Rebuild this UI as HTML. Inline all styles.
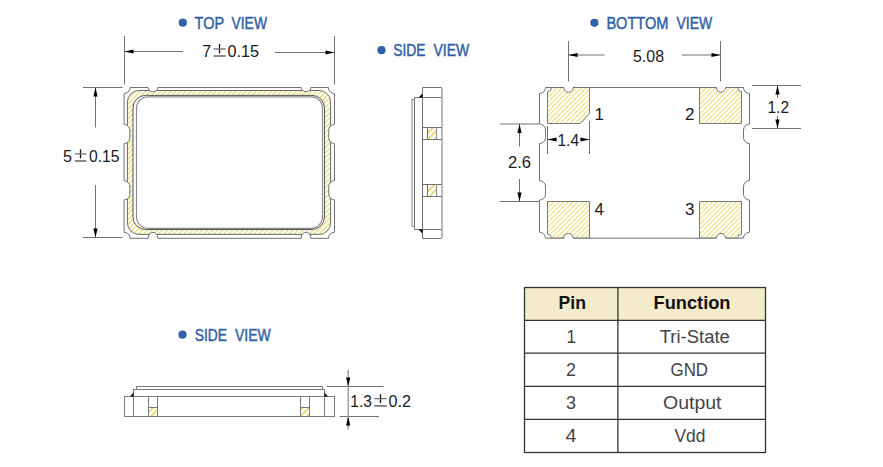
<!DOCTYPE html>
<html><head><meta charset="utf-8">
<style>
html,body{margin:0;padding:0;background:#fff;}
body{width:883px;height:467px;overflow:hidden;position:relative;}
svg{position:absolute;left:0;top:0;}
text{font-family:"Liberation Sans",sans-serif;}
</style></head><body>
<svg width="883" height="467" viewBox="0 0 883 467">
<defs>
<pattern id="h1" patternUnits="userSpaceOnUse" width="3.55" height="5" patternTransform="rotate(45)">
<rect x="0" y="0" width="1.3" height="5" fill="#e5dd72"/>
</pattern>
<pattern id="h2" patternUnits="userSpaceOnUse" width="3.4" height="5" patternTransform="rotate(45)">
<rect x="0" y="0" width="1.1" height="5" fill="#ecdc78"/>
</pattern>
<pattern id="h3" patternUnits="userSpaceOnUse" width="4.6" height="5" patternTransform="rotate(45)">
<rect x="0" y="0" width="1.7" height="5" fill="#e8d458"/>
</pattern>
<clipPath id="bodyclip"><path d="M130.1,87.5 H148.1 A4.9,4.3 0 0 0 157.9,87.5 H301.1 A4.9,4.3 0 0 0 310.9,87.5 H328.5 A6,6 0 0 0 334.5,93.5 V124.4 A5.8,6 0 0 0 328.7,130.4 V137.6 A5.8,6 0 0 0 334.5,143.6 V180.7 A5.8,6 0 0 0 328.7,186.7 V193.9 A5.8,6 0 0 0 334.5,199.9 V232.3 A6,6 0 0 0 328.5,238.3 H310.9 A4.9,6 0 0 0 301.1,238.3 H157.9 A4.9,6 0 0 0 148.1,238.3 H130.1 A6,6 0 0 0 124.1,232.3 V199.9 A5.8,6 0 0 0 129.9,193.9 V186.7 A5.8,6 0 0 0 124.1,180.7 V143.6 A5.8,6 0 0 0 129.9,137.6 V130.4 A5.8,6 0 0 0 124.1,124.4 V93.5 A6,6 0 0 0 130.1,87.5 Z"/></clipPath>
<clipPath id="botclip"><path d="M545.5,87.5 H563.9 A4.6,4.8 0 0 0 573.1,87.5 H716.4 A4.6,4.8 0 0 0 725.6,87.5 H743.5 A6,6 0 0 0 749.5,93.5 V124.05 A6,6 0 0 0 743.5,130.05 V137.55 A6,6 0 0 0 749.5,143.55 V180.55 A6,6 0 0 0 743.5,186.55 V194.05 A6,6 0 0 0 749.5,200.05 V232.2 A6,6 0 0 0 743.5,238.2 H725.6 A4.6,4.8 0 0 0 716.4,238.2 H573.1 A4.6,4.8 0 0 0 563.9,238.2 H545.5 A6,6 0 0 0 539.5,232.2 V200.05 A6,6 0 0 0 545.5,194.05 V186.55 A6,6 0 0 0 539.5,180.55 V143.55 A6,6 0 0 0 545.5,137.55 V130.05 A6,6 0 0 0 539.5,124.05 V93.5 A6,6 0 0 0 545.5,87.5 Z"/></clipPath>
</defs>
<g fill="#3061ab" stroke="#3061ab" stroke-width="0.45">
<circle cx="182.8" cy="22.7" r="4.1" stroke="none"/>
<text x="194.6" y="28.7" font-size="15.9" textLength="29.6" lengthAdjust="spacingAndGlyphs" >TOP</text>
<text x="231.5" y="28.7" font-size="15.9" textLength="35.5" lengthAdjust="spacingAndGlyphs" >VIEW</text>
<circle cx="381.5" cy="50.2" r="4.1" stroke="none"/>
<text x="393.2" y="55.8" font-size="15.9" textLength="32.2" lengthAdjust="spacingAndGlyphs" >SIDE</text>
<text x="433.5" y="55.8" font-size="15.9" textLength="35.8" lengthAdjust="spacingAndGlyphs" >VIEW</text>
<circle cx="594.4" cy="22.8" r="4.1" stroke="none"/>
<text x="606.4" y="28.6" font-size="15.9" textLength="62" lengthAdjust="spacingAndGlyphs" >BOTTOM</text>
<text x="676.5" y="28.6" font-size="15.9" textLength="35.7" lengthAdjust="spacingAndGlyphs" >VIEW</text>
<circle cx="182.5" cy="334.7" r="4.1" stroke="none"/>
<text x="194.7" y="340.6" font-size="15.9" textLength="32.2" lengthAdjust="spacingAndGlyphs" >SIDE</text>
<text x="235" y="340.6" font-size="15.9" textLength="35.8" lengthAdjust="spacingAndGlyphs" >VIEW</text>
</g>
<g stroke="#707070" stroke-width="1" fill="none">
<line x1="124.5" y1="36" x2="124.5" y2="84.5" />
<line x1="334.5" y1="36" x2="334.5" y2="84.5" />
<line x1="124.5" y1="51.5" x2="183" y2="51.5" />
<line x1="275" y1="52.5" x2="334.5" y2="52.5" />
<line x1="83" y1="87.5" x2="122.5" y2="87.5" />
<line x1="83" y1="237.5" x2="122.5" y2="237.5" />
<line x1="95.5" y1="87.5" x2="95.5" y2="127.5" />
<line x1="95.5" y1="185" x2="95.5" y2="237.5" />
</g>
<path d="M124.5,51.5 L133.5,49.4 L133.5,53.6 z" fill="#000"/>
<path d="M334.5,52.5 L325.5,50.4 L325.5,54.6 z" fill="#000"/>
<path d="M95.5,87.5 L93.4,96.5 L97.6,96.5 z" fill="#000"/>
<path d="M95.5,237.5 L93.4,228.5 L97.6,228.5 z" fill="#000"/>
<g fill="#1a1a1a">
<text x="202.3" y="57" font-size="16.5" textLength="9" lengthAdjust="spacingAndGlyphs" >7</text>
<text x="227.6" y="57" font-size="16.5" textLength="31.5" lengthAdjust="spacingAndGlyphs" >0.15</text>
<text x="63" y="161.6" font-size="16.5" textLength="9" lengthAdjust="spacingAndGlyphs" >5</text>
<text x="89" y="161.6" font-size="16.5" textLength="30.5" lengthAdjust="spacingAndGlyphs" >0.15</text>
</g>
<g><line x1="219.5" y1="44" x2="219.5" y2="53.5" stroke="#111" stroke-width="1.3"/><line x1="213.6" y1="49" x2="225.7" y2="49" stroke="#6f6f6f" stroke-width="1.3"/><line x1="213.6" y1="56" x2="225.7" y2="56" stroke="#6f6f6f" stroke-width="1.6"/></g>
<g><line x1="80.5" y1="149.4" x2="80.5" y2="158.4" stroke="#111" stroke-width="1.3"/><line x1="74.9" y1="153.9" x2="86.4" y2="153.9" stroke="#6f6f6f" stroke-width="1.3"/><line x1="74.9" y1="161" x2="86.4" y2="161" stroke="#6f6f6f" stroke-width="1.6"/></g>
<g clip-path="url(#bodyclip)">
<path fill="url(#h1)" fill-rule="evenodd" d="M138.9,90.5 H319.1 A11.5,11.5 0 0 1 330.6,102 V222.9 A11.5,11.5 0 0 1 319.1,234.4 H138.9 A11.5,11.5 0 0 1 127.4,222.9 V102 A11.5,11.5 0 0 1 138.9,90.5 Z M145.5,95.4 H312 A12.5,12.5 0 0 1 324.5,107.9 V217 A12.5,12.5 0 0 1 312,229.5 H145.5 A12.5,12.5 0 0 1 133,217 V107.9 A12.5,12.5 0 0 1 145.5,95.4 Z"/>
<path fill="none" stroke="#6a6a6a" stroke-width="1" d="M138.9,90.5 H319.1 A11.5,11.5 0 0 1 330.6,102 V222.9 A11.5,11.5 0 0 1 319.1,234.4 H138.9 A11.5,11.5 0 0 1 127.4,222.9 V102 A11.5,11.5 0 0 1 138.9,90.5 Z"/>
<path fill="none" stroke="#555" stroke-width="1" d="M145.5,95.4 H312 A12.5,12.5 0 0 1 324.5,107.9 V217 A12.5,12.5 0 0 1 312,229.5 H145.5 A12.5,12.5 0 0 1 133,217 V107.9 A12.5,12.5 0 0 1 145.5,95.4 Z"/>
<path fill="none" stroke="#8c8c8c" stroke-width="1.2" d="M148,96.8 H311 A11.5,11.5 0 0 1 322.5,108.3 V216.8 A11.5,11.5 0 0 1 311,228.3 H148 A11.5,11.5 0 0 1 136.5,216.8 V108.3 A11.5,11.5 0 0 1 148,96.8 Z"/>
</g>
<path fill="none" stroke="#707070" stroke-width="1" d="M130.1,87.5 H148.1 A4.9,4.3 0 0 0 157.9,87.5 H301.1 A4.9,4.3 0 0 0 310.9,87.5 H328.5 A6,6 0 0 0 334.5,93.5 V124.4 A5.8,6 0 0 0 328.7,130.4 V137.6 A5.8,6 0 0 0 334.5,143.6 V180.7 A5.8,6 0 0 0 328.7,186.7 V193.9 A5.8,6 0 0 0 334.5,199.9 V232.3 A6,6 0 0 0 328.5,238.3 H310.9 A4.9,6 0 0 0 301.1,238.3 H157.9 A4.9,6 0 0 0 148.1,238.3 H130.1 A6,6 0 0 0 124.1,232.3 V199.9 A5.8,6 0 0 0 129.9,193.9 V186.7 A5.8,6 0 0 0 124.1,180.7 V143.6 A5.8,6 0 0 0 129.9,137.6 V130.4 A5.8,6 0 0 0 124.1,124.4 V93.5 A6,6 0 0 0 130.1,87.5 Z"/>
<g fill="none" stroke="#6e6e6e" stroke-width="1">
<line x1="422.5" y1="87.5" x2="441.5" y2="87.5" />
<line x1="422.5" y1="238.5" x2="441.5" y2="238.5" />
<line x1="422.5" y1="87.5" x2="422.5" y2="238.5" />
<line x1="442" y1="87.5" x2="442" y2="238.5" stroke="#9a9a9a" stroke-width="1.4"/>
<line x1="414.5" y1="97.5" x2="441.5" y2="97.5" />
<line x1="414.5" y1="229.5" x2="441.5" y2="229.5" />
<line x1="414.5" y1="97.5" x2="414.5" y2="229.5" />
<path stroke="#a0a0a0" stroke-width="1.3" d="M414.5,99.5 H412 V226.3 H414.5"/>
<line x1="422.5" y1="127.5" x2="441.5" y2="127.5" />
<line x1="422.5" y1="139.5" x2="441.5" y2="139.5" />
<line x1="427.5" y1="127.5" x2="427.5" y2="139.5" />
<line x1="436.5" y1="127.5" x2="436.5" y2="139.5" stroke="#999" stroke-width="1.3"/>
<line x1="422.5" y1="184.5" x2="441.5" y2="184.5" />
<line x1="422.5" y1="196.5" x2="441.5" y2="196.5" />
<line x1="427.5" y1="184.5" x2="427.5" y2="196.5" />
<line x1="436.5" y1="184.5" x2="436.5" y2="196.5" stroke="#999" stroke-width="1.3"/>
</g>
<rect x="428" y="128" width="8" height="11" fill="url(#h3)"/>
<rect x="428" y="185" width="8" height="11" fill="url(#h3)"/>
<path d="M418.5,97.5 L422.5,97.5 L422.5,93.5 z" fill="#000"/>
<path d="M418.5,229.5 L422.5,229.5 L422.5,233.5 z" fill="#000"/>
<g clip-path="url(#botclip)">
<path fill="url(#h2)" stroke="#7a7a7a" stroke-width="1" d="M551.5,87.5 H589.5 V113.5 L580.5,123.5 H547.5 V91.5 A4,4 0 0 0 551.5,87.5 Z"/>
<path fill="url(#h2)" stroke="#7a7a7a" stroke-width="1" d="M699.5,87.5 H737.5 A4,4 0 0 0 741.5,91.5 V123.5 H699.5 Z"/>
<path fill="url(#h2)" stroke="#7a7a7a" stroke-width="1" d="M547.5,201.5 H589.5 V238.2 H551.5 A4,4 0 0 0 547.5,234.2 Z"/>
<path fill="url(#h2)" stroke="#7a7a7a" stroke-width="1" d="M699.5,201.5 H741.5 V234.2 A4,4 0 0 0 737.5,238.2 H699.5 Z"/>
</g>
<path fill="none" stroke="#707070" stroke-width="1" d="M545.5,87.5 H563.9 A4.6,4.8 0 0 0 573.1,87.5 H716.4 A4.6,4.8 0 0 0 725.6,87.5 H743.5 A6,6 0 0 0 749.5,93.5 V124.05 A6,6 0 0 0 743.5,130.05 V137.55 A6,6 0 0 0 749.5,143.55 V180.55 A6,6 0 0 0 743.5,186.55 V194.05 A6,6 0 0 0 749.5,200.05 V232.2 A6,6 0 0 0 743.5,238.2 H725.6 A4.6,4.8 0 0 0 716.4,238.2 H573.1 A4.6,4.8 0 0 0 563.9,238.2 H545.5 A6,6 0 0 0 539.5,232.2 V200.05 A6,6 0 0 0 545.5,194.05 V186.55 A6,6 0 0 0 539.5,180.55 V143.55 A6,6 0 0 0 545.5,137.55 V130.05 A6,6 0 0 0 539.5,124.05 V93.5 A6,6 0 0 0 545.5,87.5 Z"/>
<g stroke="#707070" stroke-width="1" fill="none">
<line x1="568.5" y1="41" x2="568.5" y2="81.5" />
<line x1="720.5" y1="41" x2="720.5" y2="81.5" />
<line x1="568.5" y1="55" x2="604.5" y2="55" />
<line x1="682" y1="55" x2="720.5" y2="55" />
<line x1="547.5" y1="126" x2="547.5" y2="154" />
<line x1="589.5" y1="121" x2="589.5" y2="154" />
<line x1="547.5" y1="139.5" x2="557" y2="139.5" />
<line x1="580" y1="139.5" x2="589.5" y2="139.5" />
<line x1="500" y1="124" x2="539" y2="124" />
<line x1="500" y1="201.5" x2="539" y2="201.5" />
<line x1="519.5" y1="124" x2="519.5" y2="146.5" />
<line x1="519.5" y1="179" x2="519.5" y2="201.5" />
<line x1="752" y1="85.5" x2="801" y2="85.5" />
<line x1="752" y1="128.5" x2="801" y2="128.5" />
<line x1="777.5" y1="85.5" x2="777.5" y2="98" />
<line x1="777.5" y1="116" x2="777.5" y2="128.5" />
</g>
<path d="M568.5,55 L577.5,52.9 L577.5,57.1 z" fill="#000"/>
<path d="M720.5,55 L711.5,52.9 L711.5,57.1 z" fill="#000"/>
<path d="M547.5,139.5 L556.5,137.4 L556.5,141.6 z" fill="#000"/>
<path d="M589.5,139.5 L580.5,137.4 L580.5,141.6 z" fill="#000"/>
<path d="M519.5,124 L517.4,133 L521.6,133 z" fill="#000"/>
<path d="M519.5,201.5 L517.4,192.5 L521.6,192.5 z" fill="#000"/>
<path d="M777.5,85.5 L775.4,94.5 L779.6,94.5 z" fill="#000"/>
<path d="M777.5,128.5 L775.4,119.5 L779.6,119.5 z" fill="#000"/>
<g fill="#1a1a1a">
<text x="633" y="61.5" font-size="16.5" textLength="31" lengthAdjust="spacingAndGlyphs" >5.08</text>
<text x="557.5" y="145.8" font-size="16" textLength="21.5" lengthAdjust="spacingAndGlyphs" >1.4</text>
<text x="508" y="167.8" font-size="16.5" textLength="23" lengthAdjust="spacingAndGlyphs" >2.6</text>
<text x="767.5" y="112.5" font-size="16" textLength="21.5" lengthAdjust="spacingAndGlyphs" >1.2</text>
<text x="594.5" y="120.4" font-size="17" >1</text>
<text x="685" y="120" font-size="17" >2</text>
<text x="685" y="214.7" font-size="17" >3</text>
<text x="594.5" y="215.3" font-size="17" >4</text>
</g>
<g fill="none" stroke="#7a7a7a" stroke-width="1">
<rect x="124.5" y="396.5" width="210" height="20"/>
<line x1="133.5" y1="389.5" x2="133.5" y2="416.5" />
<line x1="324.5" y1="389.5" x2="324.5" y2="416.5" />
<line x1="133.5" y1="389.5" x2="324.5" y2="389.5" />
<path stroke="#777" d="M136.5,389.5 V386.5 H322.5 V389.5"/>
<rect x="148.5" y="396.5" width="9" height="20"/>
<line x1="148.5" y1="407.5" x2="157.5" y2="407.5" />
<rect x="300.5" y="396.5" width="9" height="20"/>
<line x1="300.5" y1="407.5" x2="309.5" y2="407.5" />
</g>
<rect x="149" y="408" width="8" height="8" fill="url(#h3)"/>
<rect x="301" y="408" width="8" height="8" fill="url(#h3)"/>
<path d="M130,396.5 L133.5,396.5 L133.5,392.5 z" fill="#000"/>
<path d="M328,396.5 L324.5,396.5 L324.5,392.5 z" fill="#000"/>
<g stroke="#707070" stroke-width="1" fill="none">
<line x1="327" y1="386.5" x2="383.5" y2="386.5" />
<line x1="339.5" y1="416.5" x2="379" y2="416.5" />
<line x1="348.2" y1="370" x2="348.2" y2="429.5" stroke="#a0a0a0" stroke-width="1.5"/>
</g>
<path d="M348.2,386.5 L346.1,377.5 L350.3,377.5 z" fill="#000"/>
<path d="M348.2,416.5 L346.1,425.5 L350.3,425.5 z" fill="#000"/>
<g fill="#1a1a1a">
<text x="350.3" y="406.6" font-size="16" textLength="21.5" lengthAdjust="spacingAndGlyphs" >1.3</text>
<text x="388.5" y="406.6" font-size="16" textLength="22.5" lengthAdjust="spacingAndGlyphs" >0.2</text>
</g>
<g><line x1="380.5" y1="394.3" x2="380.5" y2="403.1" stroke="#111" stroke-width="1.3"/><line x1="374.2" y1="398.6" x2="386.6" y2="398.6" stroke="#6f6f6f" stroke-width="1.3"/><line x1="374.2" y1="405.9" x2="386.6" y2="405.9" stroke="#6f6f6f" stroke-width="1.6"/></g>
<rect x="524.5" y="287.5" width="241" height="33" fill="#f3ebca"/>
<g stroke="#333" stroke-width="1.3" fill="none">
<rect x="524.5" y="287.5" width="241" height="165"/>
<line x1="617.9" y1="287.5" x2="617.9" y2="452.5" />
<line x1="524.5" y1="320.3" x2="765.5" y2="320.3" />
<line x1="524.5" y1="353.2" x2="765.5" y2="353.2" />
<line x1="524.5" y1="386.3" x2="765.5" y2="386.3" />
<line x1="524.5" y1="419.4" x2="765.5" y2="419.4" />
</g>
<g fill="#111" font-weight="bold">
<text x="558.6" y="309.4" font-size="18.5" textLength="27.4" lengthAdjust="spacingAndGlyphs" >Pin</text>
<text x="653.5" y="309.4" font-size="18.5" textLength="77" lengthAdjust="spacingAndGlyphs" >Function</text>
</g>
<g fill="#444">
<text x="566.5" y="342.9" font-size="18" textLength="9.5" lengthAdjust="spacingAndGlyphs" >1</text>
<text x="566" y="375.8" font-size="18" textLength="10" lengthAdjust="spacingAndGlyphs" >2</text>
<text x="566" y="408.6" font-size="18" textLength="10" lengthAdjust="spacingAndGlyphs" >3</text>
<text x="565.5" y="441.6" font-size="18" textLength="11" lengthAdjust="spacingAndGlyphs" >4</text>
<text x="659.8" y="342.7" font-size="18" textLength="70" lengthAdjust="spacingAndGlyphs" >Tri-State</text>
<text x="670.5" y="375.8" font-size="18" textLength="37.5" lengthAdjust="spacingAndGlyphs" >GND</text>
<text x="663" y="408.6" font-size="18" textLength="58.5" lengthAdjust="spacingAndGlyphs" >Output</text>
<text x="674.5" y="441.6" font-size="18" textLength="31" lengthAdjust="spacingAndGlyphs" >Vdd</text>
</g>
</svg>
</body></html>
